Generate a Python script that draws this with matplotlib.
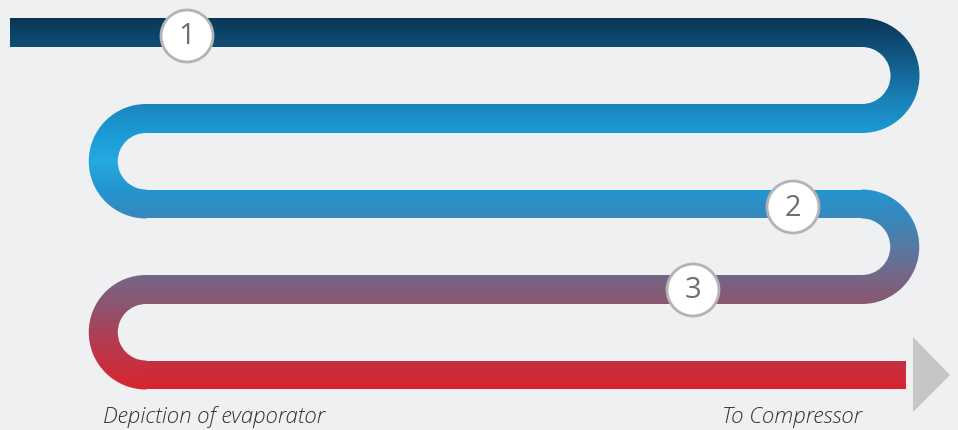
import numpy as np
import matplotlib
matplotlib.use("Agg")
import matplotlib.pyplot as plt
from matplotlib.patches import Rectangle, Wedge, Circle, Polygon
from matplotlib.colors import to_rgb

# ---- diagram data ----
row_centers = [32.5, 118.5, 204.0, 289.5, 375.0]   # pipe row centre lines (px)
pipe_width = 29
x_left_start = 10
x_bend_left = 146
x_bend_right = 862
x_end = 906
bend_sides = ["right", "left", "right", "left"]

# vertical colour gradient stops (y px, colour)
grad_y = [18, 47, 100, 133, 161, 190, 218, 250, 275, 304, 340, 389]
grad_c = ["#0a3656", "#0f4f78", "#1a82b8", "#1b9ad6", "#26a8e0", "#2296d0",
          "#3888bb", "#5a78a0", "#746788", "#8b5670", "#b23c52", "#d9242f"]

markers = ["1", "2", "3"]
marker_x = [187, 793, 693]
marker_y = [36, 207, 290]

label_left = "Depiction of evaporator"
label_right = "To Compressor"

W, H = 958, 430
fig = plt.figure(figsize=(W / 100, H / 100), dpi=100)
fig.patch.set_facecolor("#eff0f2")
ax = fig.add_axes([0, 0, 1, 1])
ax.set_xlim(0, W)
ax.set_ylim(H, 0)
ax.axis("off")

# gradient image
ys = np.arange(H) + 0.5
rgb = np.array([to_rgb(c) for c in grad_c])
img = np.zeros((H, 1, 3))
for k in range(3):
    img[:, 0, k] = np.interp(ys, grad_y, rgb[:, k])


def grad_piece(patch):
    patch.set_facecolor("none")
    patch.set_edgecolor("none")
    ax.add_patch(patch)
    im = ax.imshow(img, extent=[0, W, H, 0], aspect="auto",
                   interpolation="bilinear", zorder=2)
    im.set_clip_path(patch)


hw = pipe_width / 2
# straight rows
for i, yc in enumerate(row_centers):
    x0 = x_left_start if i == 0 else x_bend_left
    x1 = x_end if i == len(row_centers) - 1 else x_bend_right
    grad_piece(Rectangle((x0, yc - hw), x1 - x0, pipe_width))
# bends
for i, side in enumerate(bend_sides):
    yc = (row_centers[i] + row_centers[i + 1]) / 2
    r = (row_centers[i + 1] - row_centers[i]) / 2 + hw
    if side == "right":
        grad_piece(Wedge((x_bend_right, yc), r, -90.5, 90.5, width=pipe_width))
    else:
        grad_piece(Wedge((x_bend_left, yc), r, 89.5, 270.5, width=pipe_width))

# arrow
ax.add_patch(Polygon([[913, 337], [950, 375], [913, 412]], closed=True,
                     facecolor="#c5c6c8", edgecolor="none", zorder=3))

# numbered markers
for t, x, y in zip(markers, marker_x, marker_y):
    ax.add_patch(Circle((x, y), 26, facecolor="white", edgecolor="#b3b3b5",
                        linewidth=2, zorder=5))
    ax.text(x, y + 1, t, ha="center", va="center", fontsize=21,
            color="#6e6f72", family="Open Sans", zorder=6)

ax.text(103, 417, label_left, ha="left", va="center", fontsize=16,
        style="italic", color="#333335", family="Open Sans", fontweight="light")
ax.text(722, 417, label_right, ha="left", va="center", fontsize=16,
        style="italic", color="#333335", family="Open Sans", fontweight="light")

fig.savefig("out.png", dpi=100, facecolor=fig.get_facecolor())
